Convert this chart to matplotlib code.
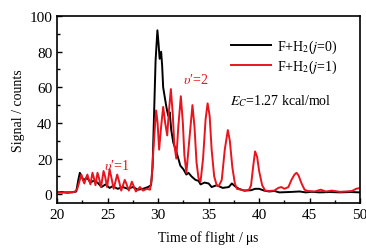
import matplotlib
matplotlib.use("Agg")
import matplotlib.pyplot as plt

plt.rcParams['font.family'] = ['Liberation Serif', 'DejaVu Serif']
plt.rcParams['mathtext.fontset'] = 'stix'

# black trace, F+H2(j=0)
t_j0 = [20.0, 20.5, 21.0, 21.5, 21.9, 22.1, 22.25, 22.6, 23.0, 23.3, 23.6, 24.0,
        24.4, 24.8, 25.2, 25.5, 26.0, 26.5, 27.0, 27.5, 28.0, 28.5, 29.0, 29.3,
        29.45, 29.6, 29.75, 29.93, 30.05, 30.15, 30.3, 30.4, 30.5, 30.7, 30.85, 31.0,
        31.15, 31.3, 31.5, 31.8, 32.0, 32.2, 32.5, 32.8, 33.0, 33.3, 33.7, 34.0,
        34.2, 34.6, 35.0, 35.3, 35.8, 36.4, 37.0, 37.3, 37.6, 38.0, 38.5, 39.2,
        39.6, 40.0, 40.5, 41.0, 41.5, 42.0, 43.0, 44.0, 44.6, 45.2, 46.0, 47.0,
        48.0, 49.0, 50.0]
s_j0 = [1.0, 1.2, 0.8, 1.1, 1.5, 8.0, 12.0, 8.0, 9.0, 6.5, 7.5, 6.5,
        4.0, 5.5, 3.5, 4.5, 3.0, 4.0, 3.0, 4.0, 2.5, 3.0, 4.0, 5.0,
        15.0, 45.0, 75.0, 92.0, 84.0, 76.0, 80.0, 72.0, 60.0, 53.0, 48.0, 44.0,
        46.0, 36.0, 29.0, 24.0, 20.0, 16.0, 14.0, 11.0, 12.0, 10.0, 8.0, 7.5,
        5.5, 6.5, 6.0, 4.0, 5.0, 3.5, 4.0, 6.0, 4.5, 3.0, 2.0, 2.2,
        3.0, 3.0, 2.0, 1.5, 1.8, 1.0, 1.2, 1.5, 1.0, 1.3, 1.0, 1.2,
        1.0, 1.2, 1.0]

# red trace, F+H2(j=1)
t_j1 = [20.0, 20.5, 21.0, 21.5, 21.8, 22.0, 22.2, 22.4, 22.55, 22.7, 22.85, 23.0,
        23.15, 23.3, 23.5, 23.65, 23.8, 24.0, 24.15, 24.35, 24.6, 24.75, 24.95, 25.2,
        25.35, 25.6, 25.95, 26.1, 26.35, 26.7, 26.85, 27.1, 27.4, 27.55, 27.8, 28.2,
        28.5, 28.9, 29.2, 29.35, 29.5, 29.65, 29.8, 29.95, 30.1, 30.3, 30.5, 30.7,
        30.9, 31.05, 31.26, 31.45, 31.6, 31.8, 32.0, 32.25, 32.45, 32.6, 32.8, 33.05,
        33.4, 33.6, 33.8, 34.0, 34.2, 34.45, 34.7, 34.9, 35.1, 35.3, 35.55, 35.8,
        36.0, 36.3, 36.6, 36.9, 37.1, 37.35, 37.6, 37.8, 38.2, 38.6, 39.0, 39.2,
        39.4, 39.6, 39.8, 40.0, 40.3, 40.6, 41.0, 41.5, 41.9, 42.2, 42.5, 42.9,
        43.2, 43.5, 43.7, 43.9, 44.2, 44.5, 44.8, 45.5, 46.1, 46.6, 47.2, 48.0,
        48.6, 49.2, 49.6, 50.0]
s_j1 = [1.0, 0.8, 1.2, 1.0, 1.5, 3.0, 7.0, 11.0, 8.0, 6.0, 9.0, 11.0,
        8.0, 5.5, 12.0, 9.0, 5.0, 12.0, 9.0, 4.0, 13.0, 10.0, 4.0, 14.0,
        10.0, 3.0, 11.0, 8.0, 2.0, 8.0, 6.0, 2.0, 7.0, 5.0, 1.5, 4.0,
        2.0, 3.0, 2.5, 8.0, 22.0, 35.0, 47.0, 40.0, 25.0, 38.0, 49.0, 40.0,
        33.0, 45.0, 59.0, 45.0, 28.0, 20.0, 38.0, 55.0, 40.0, 22.0, 12.0, 28.0,
        50.0, 38.0, 18.0, 9.0, 7.0, 20.0, 42.0, 51.0, 44.0, 25.0, 10.0, 5.0,
        4.5, 8.0, 25.0, 36.0, 30.0, 15.0, 6.0, 3.0, 2.5, 2.0, 2.5, 5.0,
        15.0, 24.0, 21.0, 13.0, 5.0, 2.0, 1.8, 2.0, 3.5, 4.0, 3.0, 4.0,
        8.0, 11.0, 12.0, 10.5, 6.0, 2.5, 1.8, 1.5, 2.5, 1.5, 2.0, 1.3,
        1.5, 1.8, 3.0, 3.5]

red = '#e8141e'

fig = plt.figure(figsize=(3.66, 2.51), dpi=100)
ax = fig.add_axes([0.156, 0.187, 0.828, 0.745])

ax.plot(t_j0, s_j0, color='black', lw=1.4, label=r'F+H$_2$($j$=0)')
ax.plot(t_j1, s_j1, color=red, lw=1.4, label=r'F+H$_2$($j$=1)')

ax.set_xlim(20, 50)
ax.set_ylim(-5, 100)
ax.set_xticks([20, 25, 30, 35, 40, 45, 50])
ax.set_xticks([22.5, 27.5, 32.5, 37.5, 42.5, 47.5], minor=True)
ax.set_yticks([0, 20, 40, 60, 80, 100])
ax.set_yticks([10, 30, 50, 70, 90], minor=True)
ax.tick_params(which='both', direction='in', labelsize=11, width=1.0)
ax.tick_params(which='major', length=3.5)
ax.tick_params(which='minor', length=2)
for sp in ax.spines.values():
    sp.set_linewidth(1.2)

ax.set_xlabel(r'Time of flight / $\mathrm{\mu}$s', fontsize=10, labelpad=5)
ax.set_ylabel('Signal / counts', fontsize=10, labelpad=3)

leg = ax.legend(loc='upper right', frameon=False, fontsize=10, handlelength=2.9,
                handletextpad=0.4, labelspacing=0.2, bbox_to_anchor=(0.965, 0.95))

ax.text(0.571, 0.53, r'$E_C$=1.27 kcal/mol', transform=ax.transAxes, fontsize=10)
ax.text(0.416, 0.64, "$\\upsilon$\u2032=2", transform=ax.transAxes, fontsize=10, color=red)
ax.text(0.155, 0.18, "$\\upsilon$\u2032=1", transform=ax.transAxes, fontsize=10, color=red)

fig.savefig('out.png', dpi=100)
